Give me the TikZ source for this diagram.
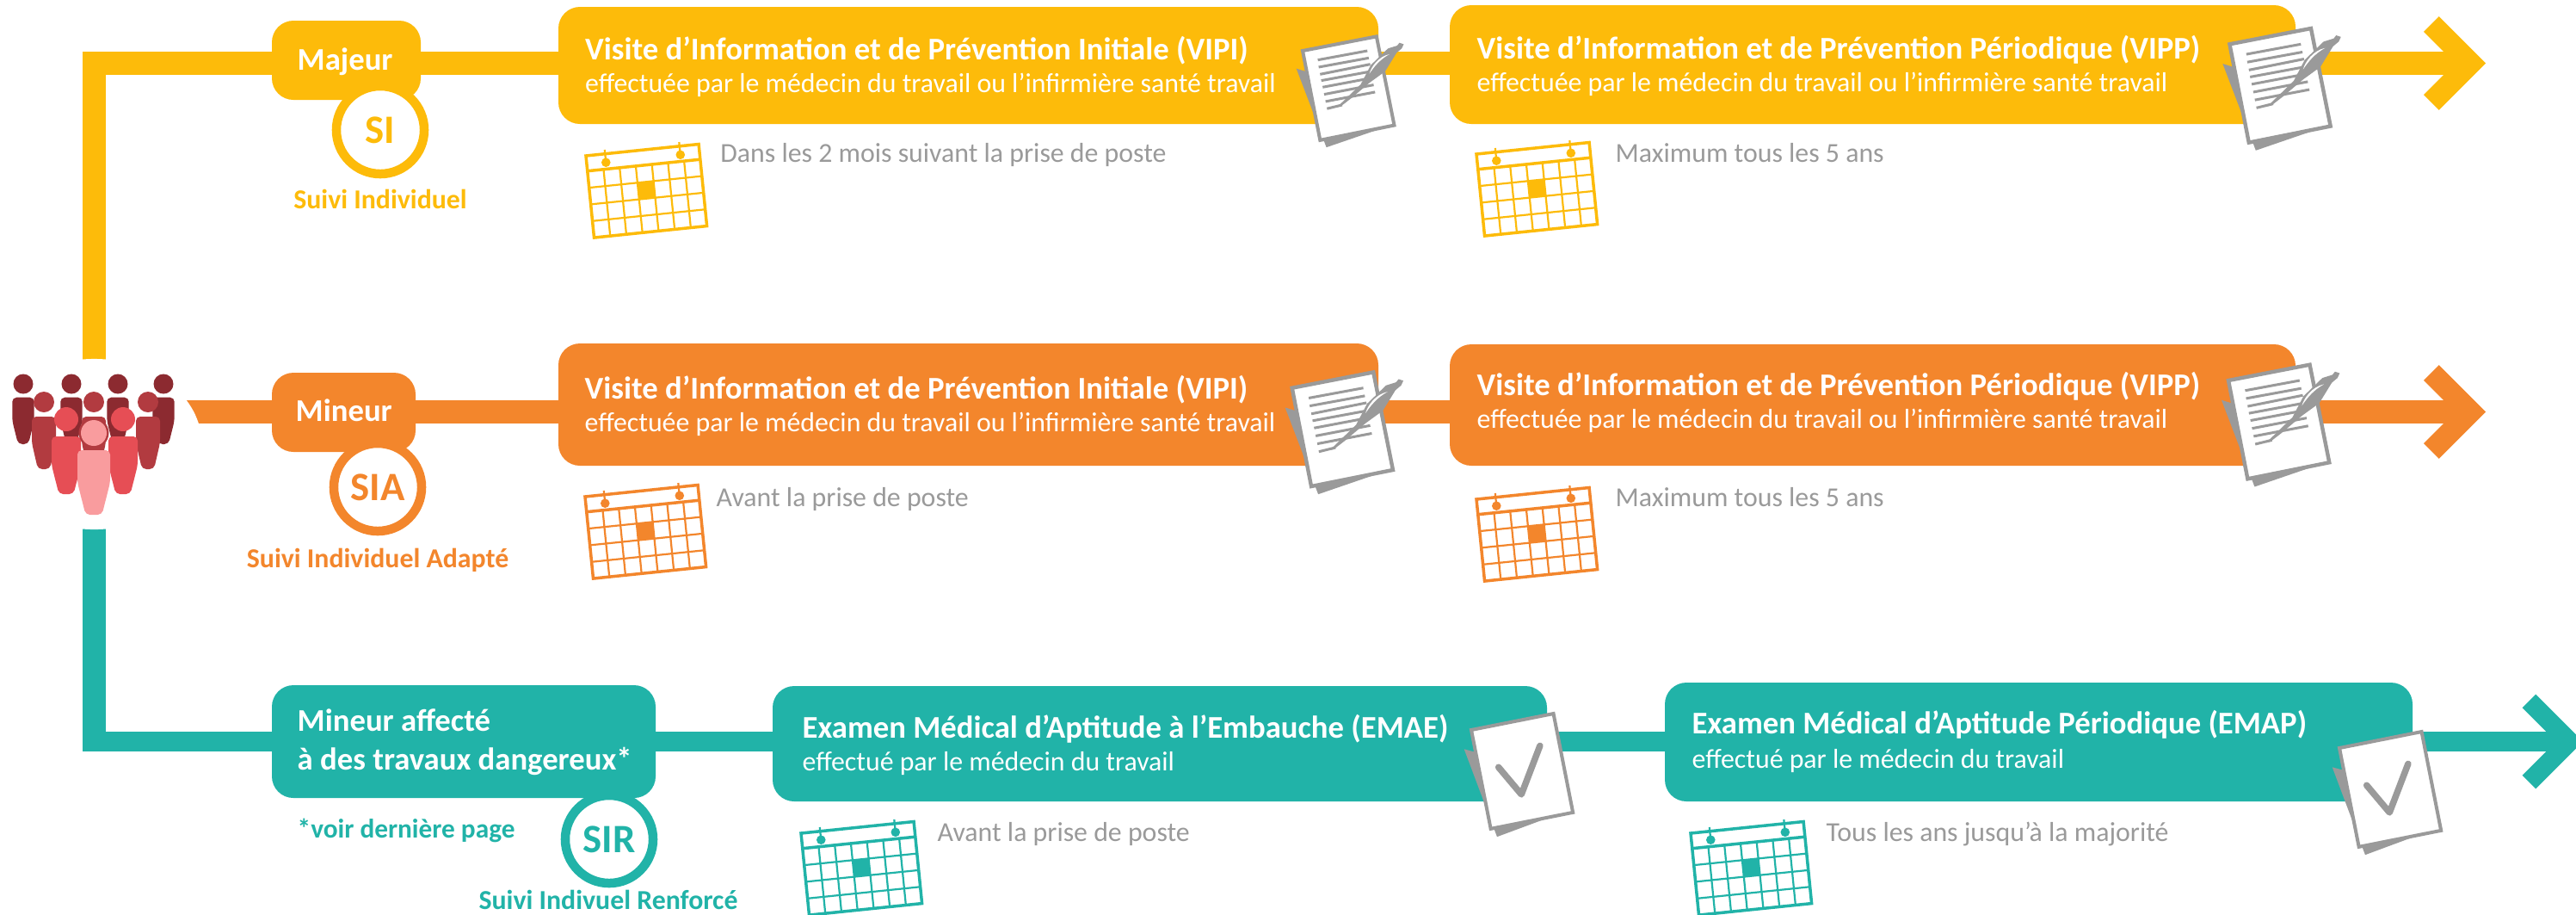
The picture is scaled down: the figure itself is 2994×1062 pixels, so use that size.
\documentclass[tikz,border=0pt]{standalone}
\usepackage{fontspec}
\setmainfont{Carlito}
\usetikzlibrary{arrows.meta,shapes.geometric,backgrounds}
\definecolor{cy}{HTML}{FDBB0A}
\definecolor{co}{HTML}{F3862C}
\definecolor{ct}{HTML}{21B3A8}
\definecolor{cg}{HTML}{9A9A9A}
\definecolor{p1}{HTML}{8C2A30}
\definecolor{p2}{HTML}{B23B40}
\definecolor{p3}{HTML}{E64E55}
\definecolor{p4}{HTML}{F99C9E}
\newcommand\fs[1]{\fontsize{#1}{#1}\selectfont}
\tikzset{
 stagebox/.style={inner sep=0pt,rounded corners=0.25cm},
 ttl/.style={anchor=base west,inner sep=0pt,text=white,font=\fs{10.44}\bfseries},
 subt/.style={anchor=base west,inner sep=0pt,text=white,font=\fs{9.05}},
 note/.style={anchor=base west,inner sep=0pt,text=cg,font=\fs{9.05}},
 lab/.style={anchor=base west,inner sep=0pt,text=white,font=\fs{10.44}\bfseries},
 abbr/.style={circle,draw=#1,fill=white,text=#1,line width=0.105cm,minimum size=1.02cm,inner sep=0pt,font=\fs{13.3}\bfseries},
 cap/.style={anchor=base,inner sep=0pt,text=#1,font=\fs{9.05}\bfseries},
 wire/.style={draw=#1,line width=0.265cm},
 iconline/.style={draw=cg,line width=0.03cm},
}
\newcommand\boxnode[6]{%
 \pgfmathsetmacro\bw{#4-#2}\pgfmathsetmacro\bh{#5-#3}%
 \node[stagebox,fill=#6,minimum width=\bw*0.01cm,minimum height=\bh*0.01cm] (#1) at ({(#2+#4)/2},{(#3+#5)/2}) {};}
\newcommand\calicon[3]{%
 \begin{scope}[shift={(#1,#2)},x={(1.31cm,0.135cm)},y={(0.095cm,-0.95cm)}]
  \fill[white] (0,0)--(1,0)--(1,1)--(0,1)--cycle;
  \fill[#3] (3/7,0.39)--(4/7,0.39)--(4/7,0.593)--(3/7,0.593)--cycle;
  \foreach \gi in {1,...,6}{\draw[#3,line width=0.022cm] ({\gi/7},0.186)--({\gi/7},1);}
  \foreach \gj in {0.39,0.593,0.797}{\draw[#3,line width=0.022cm] (0,\gj)--(1,\gj);}
  \draw[#3,line width=0.035cm] (0,0.186)--(1,0.186);
  \draw[#3,line width=0.035cm,line join=miter] (0,0)--(1,0)--(1,1)--(0,1)--cycle;
  \foreach \gu in {0.17,0.83}{
   \draw[#3,line width=0.022cm] (\gu,-0.05)--(\gu,0.1);
   \fill[#3] (\gu,0.105) circle (0.053cm);}
 \end{scope}}
\newcommand\docicon[3]{%
 \pgfmathsetmacro\ds{#3*0.01/3}%
 \begin{scope}[shift={(#1,#2)},x=\ds cm,y=-\ds cm]
  \fill[cg] (-22,62)--(83,337)--(258,277)--(100,100)--cycle;
  \draw[cg,fill=white,line width=0.04cm*#3] (0,0)--(258,-50)--(320,260)--(61,312)--cycle;
  \foreach \ax/\ay/\bx/\by in {53/32/226/0,56/57/231/25,61/82/236/47,65/104/238/72,70/127/240/95,75/152/248/119,80/177/253/144,85/202/138/189}{
   \draw[iconline] (\ax,\ay)--(\bx,\by);}
  \fill[cg] (120,197)--(203,117)--(238,50)--(298,-8)--(330,-18)--(338,-28)--(353,-23)--(346,-8)--(328,7)--(288,72)--(233,112)--(168,167)--(133,194)--cycle;
  \fill[white] (233,80) .. controls (240,55) and (265,20) .. (303,12) .. controls (270,30) and (250,55) .. (233,80);
 \end{scope}}
\newcommand\checkicon[2]{%
 \begin{scope}[shift={(#1,#2)},x=0.00333cm,y=-0.00333cm]
  \fill[cg] (-25,67)--(90,373)--(260,310)--(100,100)--cycle;
  \draw[cg,fill=white,line width=0.04cm] (0,0)--(287,-57)--(355,288)--(68,345)--cycle;
  \draw[cg,line width=0.075cm,line cap=round,line join=round] (95,130)--(175,225)--(240,55);
 \end{scope}}
\newcommand\person[8]{%
 \fill[#8] (#1,#2) circle (#3*0.01cm);
 \fill[#8,rounded corners=0.05cm] ({#1-#5},#4)--({#1+#5},#4)--({#1+#5},{#4+0.5*(#6-#4)})--({#1+#7},#6)--({#1-#7},#6)--({#1-#5},{#4+0.5*(#6-#4)})--cycle;}
\begin{document}
\begin{tikzpicture}[x=0.01cm,y=-0.01cm]
\useasboundingbox (0,0) rectangle (2994,1062);
% lanes and free points
\coordinate (crowd) at (109.5,516);
\coordinate (ylane) at (109.5,73.5);
\coordinate (olane) at (109.5,478.5);
\coordinate (tlane) at (109.5,861.5);
\coordinate (yend) at (2889,73.5);
\coordinate (oend) at (2889,478.5);
\coordinate (tend) at (3002,861.5);
% boxes
\boxnode{majeur}{316}{24}{489}{116}{cy}
\boxnode{vipiY}{649}{8}{1602}{144}{cy}
\boxnode{vippY}{1685}{6}{2668}{144}{cy}
\boxnode{mineur}{316}{433}{483}{525}{co}
\boxnode{vipiO}{649}{399}{1602}{541}{co}
\boxnode{vippO}{1685}{400}{2668}{541}{co}
\boxnode{danger}{316}{796}{762}{927}{ct}
\boxnode{emae}{898}{797}{1798}{931}{ct}
\boxnode{emap}{1935}{793}{2804}{931}{ct}
% connectors
\begin{scope}[on background layer]
 \fill[white] (0,0) rectangle (2994,1062);
 \draw[wire=cy,line join=miter] (crowd) -- (ylane) -- (majeur.center |- ylane);
 \draw[wire=cy] (majeur.center |- ylane) -- (vipiY.center |- ylane);
 \draw[wire=cy] (vipiY.center |- ylane) -- (vippY.center |- ylane);
 \draw[wire=cy,-{Straight Barb[length=0.455cm,width=0.91cm,line width=0.25cm]}] (vippY.center |- ylane) -- (yend);
 \draw[wire=co] (olane) -- (mineur.center |- olane);
 \draw[wire=co] (mineur.center |- olane) -- (vipiO.center |- olane);
 \draw[wire=co] (vipiO.center |- olane) -- (vippO.center |- olane);
 \draw[wire=co,-{Straight Barb[length=0.455cm,width=0.91cm,line width=0.25cm]}] (vippO.center |- olane) -- (oend);
 \draw[wire=ct] (crowd) -- (109.5,873);
 \draw[wire=ct,line width=0.228cm] (96,861.5) -- (danger.center |- tlane);
 \draw[wire=ct,line width=0.228cm] (danger.center |- tlane) -- (emae.center |- tlane);
 \draw[wire=ct,line width=0.228cm] (emae.center |- tlane) -- (emap.center |- tlane);
 \draw[wire=ct,line width=0.228cm,-{Straight Barb[length=0.47cm,width=0.94cm,line width=0.22cm]}] (emap.center |- tlane) -- (tend);
\end{scope}
% crowd
\node[ellipse,fill=white,minimum width=2.5cm,minimum height=1.98cm,inner sep=0pt] (crowdmask) at (crowd) {};
\foreach \cx in {27,83,137,190}{\person{\cx}{446}{11.5}{461.7}{12.7}{516}{6}{p1}}
\foreach \cx in {51,109,172}{\person{\cx}{467}{12}{484}{14}{545}{7}{p2}}
\foreach \cx in {77,143}{\person{\cx}{487}{14}{507}{17}{574}{8.5}{p3}}
\fill[p2] (109,503) circle (0.175cm);
\person{109}{503}{15}{523}{19}{598}{9.5}{p4}
% left labels
\node[lab] (tmaj) at (345,81) {Majeur};
\node[abbr=cy] (si) at (442,151) {SI};
\node[cap=cy] (csi) at (442,242) {Suivi Individuel};
\node[lab] (tmin) at (343,489) {Mineur};
\node[abbr=co] (sia) at (439,566) {SIA};
\node[cap=co] (csia) at (439,659) {Suivi Individuel Adapté};
\node[lab] (td1) at (345,849) {Mineur affecté};
\node[lab] (td2) at (345,894) {à des travaux dangereux*};
\node[abbr=ct] (sir) at (708,975) {SIR};
\node[anchor=base west,inner sep=0pt,text=ct,font=\fs{8.9}\bfseries] (voir) at (345,973) {*voir dernière page};
\node[cap=ct] (csir) at (707,1056) {Suivi Indivuel Renforcé};
% yellow row
\node[ttl] (t1) at (679.5,69) {Visite d’Information et de Prévention Initiale (VIPI)};
\node[subt] (s1) at (679.5,107) {effectuée par le médecin du travail ou l’infirmière santé travail};
\node[ttl] (t2) at (1716,68) {Visite d’Information et de Prévention Périodique (VIPP)};
\node[subt] (s2) at (1716,106) {effectuée par le médecin du travail ou l’infirmière santé travail};
\node[note] (n1) at (836.7,188) {Dans les 2 mois suivant la prise de poste};
\node[note] (n2) at (1877,188) {Maximum tous les 5 ans};
\calicon{681}{181}{cy}
\calicon{1716}{179}{cy}
\docicon{1514}{59}{1}
\docicon{2591.4}{51.3}{1.1}
% orange row
\node[ttl] (t3) at (679,463) {Visite d’Information et de Prévention Initiale (VIPI)};
\node[subt] (s3) at (679,501) {effectuée par le médecin du travail ou l’infirmière santé travail};
\node[ttl] (t4) at (1716,459) {Visite d’Information et de Prévention Périodique (VIPP)};
\node[subt] (s4) at (1716,497) {effectuée par le médecin du travail ou l’infirmière santé travail};
\node[note] (n3) at (832,588) {Avant la prise de poste};
\node[note] (n4) at (1877,588) {Maximum tous les 5 ans};
\calicon{680}{577}{co}
\calicon{1716}{580}{co}
\docicon{1501.7}{450.7}{1.1}
\docicon{2590}{442}{1.1}
% teal row
\node[ttl] (t5) at (932,857) {Examen Médical d’Aptitude à l’Embauche (EMAE)};
\node[subt] (s5) at (932,895) {effectué par le médecin du travail};
\node[ttl] (t6) at (1966,852) {Examen Médical d’Aptitude Périodique (EMAP)};
\node[subt] (s6) at (1966,892) {effectué par le médecin du travail};
\node[note] (n5) at (1089,977) {Avant la prise de poste};
\node[note] (n6) at (2122,977) {Tous les ans jusqu’à la majorité};
\calicon{931}{968}{ct}
\calicon{1965}{968}{ct}
\checkicon{1710}{848}
\checkicon{2719}{869}
\end{tikzpicture}
\end{document}
